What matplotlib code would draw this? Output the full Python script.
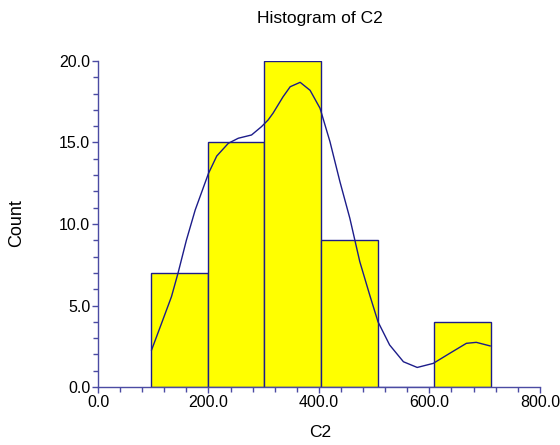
import matplotlib
matplotlib.use("Agg")
import matplotlib.pyplot as plt
from matplotlib.ticker import MultipleLocator, FormatStrFormatter

# histogram of C2 : bin edges and counts
bin_edges = [96.5, 198.9, 301.3, 403.7, 506.1, 608.5, 710.9]
counts = [7, 15, 20, 9, 0, 4]

# density curve (scaled to counts)
curve_x = [97, 115, 133, 145, 160, 176, 188, 200, 215, 236, 254, 278, 296, 308,
           317, 335, 348, 366, 384, 402, 420, 438, 456, 474, 492, 507, 528, 553,
           578, 607, 637, 667, 685, 710]
curve_y = [2.27, 3.9, 5.54, 7.0, 9.0, 10.86, 11.98, 13.1, 14.17, 14.95, 15.26,
           15.46, 15.97, 16.38, 16.8, 17.8, 18.42, 18.69, 18.2, 17.1, 15.05, 12.6,
           10.35, 7.69, 5.64, 4.0, 2.58, 1.55, 1.2, 1.45, 2.07, 2.68, 2.74, 2.52]

plt.rcParams['font.family'] = ['Liberation Sans', 'DejaVu Sans']

navy = '#1c1c8a'
axis_col = '#4b4ba3'

fig = plt.figure(figsize=(5.6, 4.45), dpi=100)
ax = fig.add_axes([0.175, 0.1303, 0.789, 0.7327])

lefts = bin_edges[:-1]
widths = [b - a for a, b in zip(bin_edges[:-1], bin_edges[1:])]
ax.bar(lefts, counts, width=widths, align='edge', color='#ffff00',
       edgecolor=navy, linewidth=1.0, zorder=2)
ax.plot(curve_x, curve_y, color=navy, linewidth=1.0, zorder=3,
        solid_joinstyle='round')

ax.set_xlim(0, 800)
ax.set_ylim(0, 20)
ax.xaxis.set_major_locator(MultipleLocator(200))
ax.xaxis.set_minor_locator(MultipleLocator(40))
ax.yaxis.set_major_locator(MultipleLocator(5))
ax.yaxis.set_minor_locator(MultipleLocator(1))
ax.xaxis.set_major_formatter(FormatStrFormatter('%.1f'))
ax.yaxis.set_major_formatter(FormatStrFormatter('%.1f'))

for side in ['top', 'right']:
    ax.spines[side].set_visible(False)
for side in ['left', 'bottom']:
    ax.spines[side].set_color(axis_col)
    ax.spines[side].set_linewidth(1.0)

ax.tick_params(which='major', length=4.5, width=1, color=axis_col,
               labelsize=11.5, pad=1)
ax.tick_params(which='minor', length=3.5, width=1, color=axis_col)

fig.text(0.571, 0.958, 'Histogram of C2', ha='center', va='center', fontsize=12.5)
fig.text(0.030, 0.499, 'Count', ha='center', va='center', rotation=90, fontsize=13)
fig.text(0.571, 0.029, 'C2', ha='center', va='center', fontsize=12.5)

fig.savefig('out.png', dpi=100)
